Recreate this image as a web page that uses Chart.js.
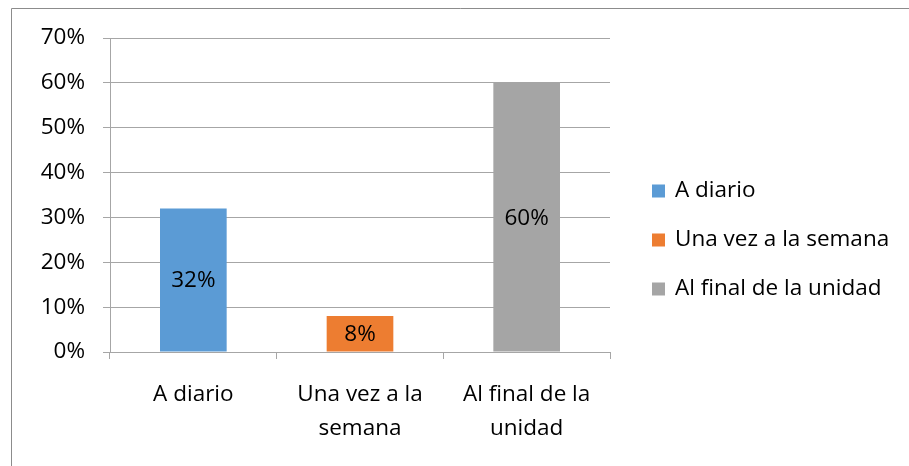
<!DOCTYPE html>
<html>
<head>
<meta charset="utf-8">
<script src="https://cdn.jsdelivr.net/npm/chart.js@4"></script>
<style>
  html, body { margin: 0; padding: 0; background: #ffffff; overflow: hidden; }
  #wrap { position: relative; width: 909px; height: 466px; }
</style>
</head>
<body>
<div id="wrap"><canvas id="grafica"></canvas></div>
<script>
// Datos
const CATEGORIAS = [['A diario'], ['Una vez a la', 'semana'], ['Al final de la', 'unidad']];
const VALORES = [32, 8, 60];
const COLORES = ['#5b9bd5', '#ed7d31', '#a5a5a5'];
const TICKS_Y = [0, 10, 20, 30, 40, 50, 60, 70];

const FUENTE = '"Open Sans"';
const TAM = 22.5;
const GRIS = '#a6a6a6';

// Marco exterior (el recuadro del gráfico de Excel)
const marcoPlugin = {
  id: 'marco',
  beforeDraw(chart) {
    const ctx = chart.ctx;
    ctx.save();
    ctx.strokeStyle = '#8c8c8c';
    ctx.lineWidth = 1;
    ctx.beginPath();
    ctx.moveTo(11.5, chart.height);
    ctx.lineTo(11.5, 8.5);
    ctx.lineTo(chart.width, 8.5);
    ctx.stroke();
    ctx.restore();
  }
};

// Etiquetas de valor centradas dentro de cada barra
const etiquetasPlugin = {
  id: 'etiquetas',
  afterDatasetsDraw(chart) {
    const ctx = chart.ctx;
    const meta = chart.getDatasetMeta(0);
    ctx.save();
    ctx.font = TAM + 'px ' + FUENTE;
    ctx.fillStyle = '#000000';
    ctx.textAlign = 'center';
    ctx.textBaseline = 'middle';
    meta.data.forEach((bar, i) => {
      ctx.fillText(VALORES[i] + '%', bar.x, (bar.y + bar.base) / 2 + 1);
    });
    ctx.restore();
  }
};

// Leyenda a la derecha, un elemento por categoría
const leyendaPlugin = {
  id: 'leyenda',
  afterDraw(chart) {
    const ctx = chart.ctx;
    ctx.save();
    ctx.font = TAM + 'px ' + FUENTE;
    ctx.textBaseline = 'middle';
    ctx.textAlign = 'left';
    CATEGORIAS.forEach((c, i) => {
      const y = 191 + i * 49;
      ctx.fillStyle = COLORES[i];
      ctx.fillRect(652, y - 6.5, 13, 13);
      ctx.fillStyle = '#000000';
      ctx.fillText(c.join(' '), 675, y);
    });
    ctx.restore();
  }
};

new Chart(document.getElementById('grafica'), {
  type: 'bar',
  data: {
    labels: CATEGORIAS,
    datasets: [{
      label: 'Serie 1',
      data: VALORES,
      backgroundColor: COLORES,
      borderWidth: 0,
      categoryPercentage: 1,
      barPercentage: 0.4
    }]
  },
  options: {
    responsive: true,
    maintainAspectRatio: false,
    animation: false,
    layout: { padding: { top: 38, right: 299, bottom: 0, left: 0 } },
    plugins: {
      legend: { display: false },
      tooltip: { enabled: false }
    },
    scales: {
      x: {
        grid: {
          offset: true,
          drawOnChartArea: false,
          drawTicks: true,
          tickLength: 7,
          color: GRIS
        },
        border: { color: GRIS },
        ticks: {
          color: '#000000',
          font: { family: FUENTE, size: TAM, lineHeight: 1.52 },
          padding: 18,
          maxRotation: 0,
          autoSkip: false
        },
        afterFit: s => { s.height = 114; }
      },
      y: {
        min: 0,
        max: 70,
        afterBuildTicks: s => { s.ticks = TICKS_Y.map(v => ({ value: v })); },
        grid: { color: GRIS, tickLength: 7 },
        border: { color: GRIS },
        ticks: {
          color: '#000000',
          font: { family: FUENTE, size: TAM },
          padding: 18,
          callback: v => v + '%'
        },
        afterFit: s => { s.width = 110; }
      }
    }
  },
  plugins: [marcoPlugin, etiquetasPlugin, leyendaPlugin]
});
</script>
</body>
</html>
